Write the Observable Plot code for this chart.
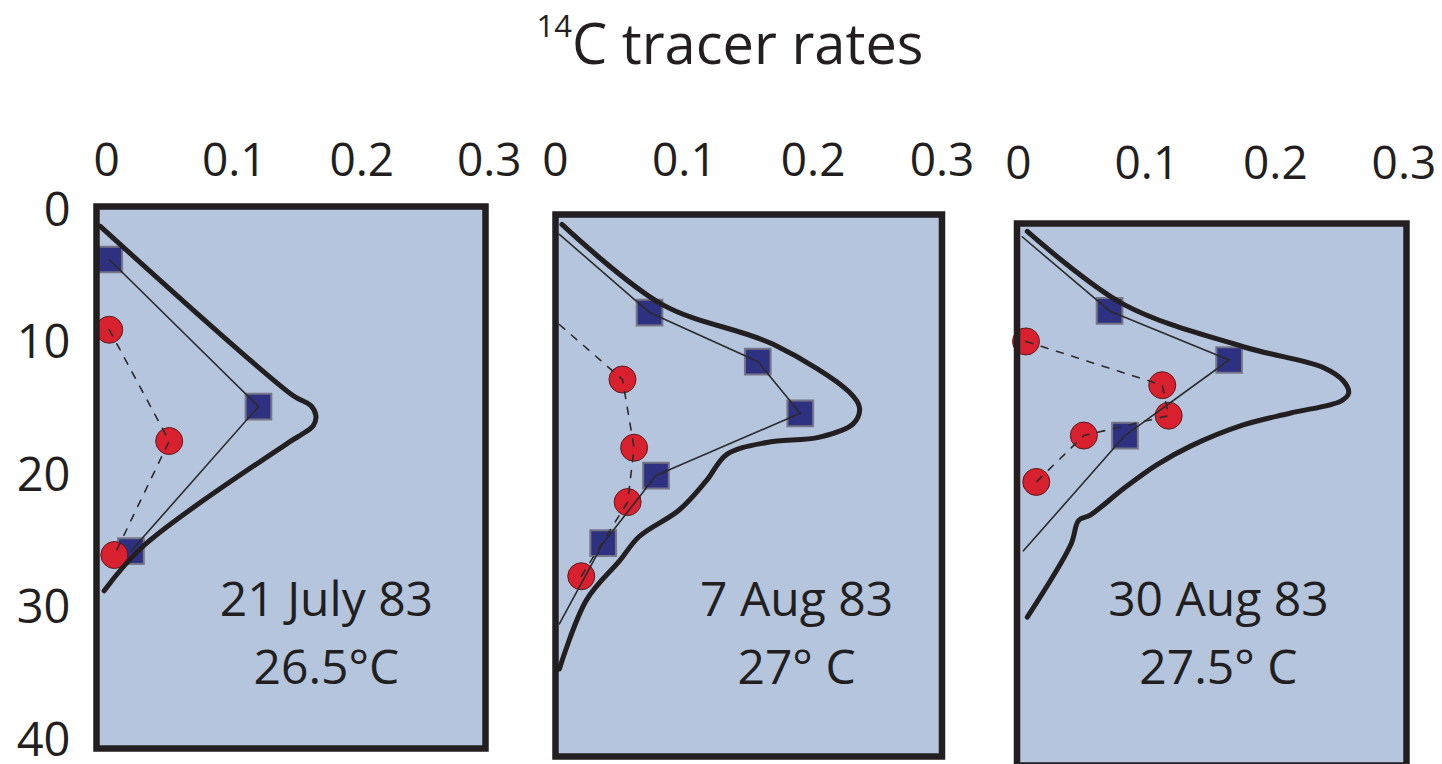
<!DOCTYPE html>
<html>
<head>
<meta charset="utf-8">
<script src="https://cdn.jsdelivr.net/npm/d3@7"></script>
<script src="https://cdn.jsdelivr.net/npm/@observablehq/plot@0.6"></script>
<style>
  body { margin: 0; background: #fff; }
  #chart { position: relative; width: 1442px; height: 764px; overflow: hidden; font-family: "Open Sans", sans-serif; color: #231f20; }
  #title { position: absolute; left: 9px; top: 14px; width: 1442px; text-align: center; font-size: 56px; line-height: 56px; }
  #title .iso { font-size: 31px; position: relative; top: -27px; }
  #chart svg { position: absolute; left: 0; top: 0; }
</style>
</head>
<body>
<div id="chart">
  <div id="title"><span class="iso">14</span>C tracer rates</div>
</div>
<script>
// Axis ticks shared by the three profiles
const xTicks = [0, 0.1, 0.2, 0.3];
const yTicks = [0, 10, 20, 30, 40];

// 21 July 83 — rate vs depth (m)
const jul21SquareRate  = [0.002, 0.119, 0.019];
const jul21SquareDepth = [3.7, 14.8, 25.7];
const jul21CircleRate  = [0.002, 0.049, 0.006];
const jul21CircleDepth = [9.0, 17.4, 26.0];
const jul21ThinRate    = [0.002, 0.119, 0.019];
const jul21ThinDepth   = [3.7, 14.8, 25.7];
const jul21DashRate    = [0.002, 0.049, 0.006];
const jul21DashDepth   = [9.0, 17.4, 26.0];
const jul21ProfileRate  = [-0.005, 0.146, 0.160, 0.164, 0.162, 0.154, 0.144, 0.029, -0.002];
const jul21ProfileDepth = [1.2, 13.96, 14.72, 15.47, 16.23, 16.83, 17.43, 25.3, 28.7];

// 7 Aug 83
const aug7SquareRate  = [0.073, 0.157, 0.190, 0.078, 0.037];
const aug7SquareDepth = [7.1, 10.8, 14.7, 19.4, 24.5];
const aug7CircleRate  = [0.052, 0.061, 0.056, 0.020];
const aug7CircleDepth = [12.15, 17.3, 21.4, 27.0];
const aug7ThinRate    = [0.003, 0.073, 0.157, 0.190, 0.078, 0.037, 0.003];
const aug7ThinDepth   = [1.2, 7.1, 10.8, 14.7, 19.4, 24.5, 30.6];
const aug7DashRate    = [0.003, 0.052, 0.061, 0.056, 0.020];
const aug7DashDepth   = [8.0, 12.15, 17.3, 21.4, 27.0];
const aug7ProfileRate  = [0.005, 0.083, 0.169, 0.228, 0.236, 0.231, 0.205, 0.164, 0.133, 0.117, 0.096, 0.065, 0.050, 0.024, 0.003];
const aug7ProfileDepth = [0.45, 6.5, 9.5, 13.1, 14.3, 15.5, 16.5, 16.9, 17.8, 19.8, 22.0, 24.0, 25.8, 28.8, 34.0];

// 30 Aug 83
const aug30SquareRate  = [0.071, 0.164, 0.083];
const aug30SquareDepth = [6.3, 10.0, 15.7];
const aug30CircleRate  = [0.006, 0.112, 0.117, 0.051, 0.014];
const aug30CircleDepth = [8.6, 11.9, 14.2, 15.7, 19.2];
const aug30ThinRate    = [0.003, 0.071, 0.164, 0.083, 0.004];
const aug30ThinDepth   = [0.7, 6.3, 10.0, 15.7, 24.4];
const aug30DashRate    = [0.006, 0.112, 0.117, 0.051, 0.014];
const aug30DashDepth   = [8.6, 11.9, 14.2, 15.7, 19.2];
const aug30ProfileRate  = [0.007, 0.082, 0.175, 0.238, 0.253, 0.257, 0.251, 0.212, 0.175, 0.134, 0.108, 0.082, 0.056, 0.047, 0.041, 0.007];
const aug30ProfileDepth = [0.3, 5.8, 9.0, 10.6, 11.6, 12.5, 13.1, 14.0, 14.9, 16.5, 17.9, 19.7, 21.7, 22.1, 23.9, 29.4];

const zip = (rate, depth) => rate.map((r, i) => ({rate: r, depth: depth[i]}));

// Panel layout: frame box in page pixels, scale domains and label placement
const panels = [
  {date: "21 July 83", temp: "26.5°C", box: [96, 485, 206, 748], xDomain: [-0.008, 0.297], yAxis: true,
   tickDy: -45, label: [0.1723, 29.44, 34.57],
   squares: zip(jul21SquareRate, jul21SquareDepth), circles: zip(jul21CircleRate, jul21CircleDepth),
   thin: zip(jul21ThinRate, jul21ThinDepth), dash: zip(jul21DashRate, jul21DashDepth),
   profile: zip(jul21ProfileRate, jul21ProfileDepth)},
  {date: "7 Aug 83", temp: "27° C", box: [555, 941.5, 214, 756], xDomain: [0, 0.3], yAxis: false,
   tickDy: -53, label: [0.1871, 28.83, 33.96],
   squares: zip(aug7SquareRate, aug7SquareDepth), circles: zip(aug7CircleRate, aug7CircleDepth),
   thin: zip(aug7ThinRate, aug7ThinDepth), dash: zip(aug7DashRate, aug7DashDepth),
   profile: zip(aug7ProfileRate, aug7ProfileDepth)},
  {date: "30 Aug 83", temp: "27.5° C", box: [1016.5, 1406, 223, 765], xDomain: [-0.001, 0.302], yAxis: false,
   tickDy: -59, label: [0.1557, 28.15, 33.28],
   squares: zip(aug30SquareRate, aug30SquareDepth), circles: zip(aug30CircleRate, aug30CircleDepth),
   thin: zip(aug30ThinRate, aug30ThinDepth), dash: zip(aug30DashRate, aug30DashDepth),
   profile: zip(aug30ProfileRate, aug30ProfileDepth)}
];

const W = 1442, H = 770;
const ink = "#231f20";
const chart = document.getElementById("chart");

for (const p of panels) {
  const [left, right, top, bottom] = p.box;
  const marks = [
    Plot.frame({fill: "#b4c5dd"}),
    Plot.dot(p.squares, {x: "rate", y: "depth", symbol: "square", r: 14.5, fill: "#2e3181", stroke: "#767686", strokeWidth: 2}),
    Plot.dot(p.circles, {x: "rate", y: "depth", r: 13.5, fill: "#d9202f", stroke: "#5a1a1f", strokeWidth: 1}),
    Plot.line(p.thin, {x: "rate", y: "depth", stroke: "#2b2b2b", strokeWidth: 1.6}),
    Plot.line(p.dash, {x: "rate", y: "depth", stroke: "#2b2b2b", strokeWidth: 1.6, strokeDasharray: "7,9"}),
    Plot.line(p.profile, {x: "rate", y: "depth", curve: "catmull-rom", stroke: ink, strokeWidth: 5}),
    Plot.frame({stroke: ink, strokeWidth: 6.5}),
    Plot.text(xTicks, {x: d => d, text: d => String(d), frameAnchor: "top", dy: p.tickDy,
      lineAnchor: "middle", textAnchor: "middle", fontSize: 46, fill: ink}),
    Plot.text([p.date], {x: () => p.label[0], y: () => p.label[1], text: d => d,
      lineAnchor: "middle", fontSize: 48, fill: ink}),
    Plot.text([p.temp], {x: () => p.label[0], y: () => p.label[2], text: d => d,
      lineAnchor: "middle", fontSize: 48, fill: ink})
  ];
  if (p.yAxis) {
    marks.push(Plot.text(yTicks, {y: d => d, text: d => String(d), frameAnchor: "left", dx: -26,
      textAnchor: "end", lineAnchor: "middle", fontSize: 47, fill: ink}));
  }
  const svg = Plot.plot({
    width: W,
    height: H,
    marginLeft: left,
    marginRight: W - right,
    marginTop: top,
    marginBottom: H - bottom,
    x: {domain: p.xDomain, axis: null},
    y: {domain: [-0.3, 40.6], reverse: true, axis: null},
    style: {background: "transparent", overflow: "visible", fontFamily: "Open Sans, sans-serif"},
    marks
  });
  chart.appendChild(svg);
}
</script>
</body>
</html>
